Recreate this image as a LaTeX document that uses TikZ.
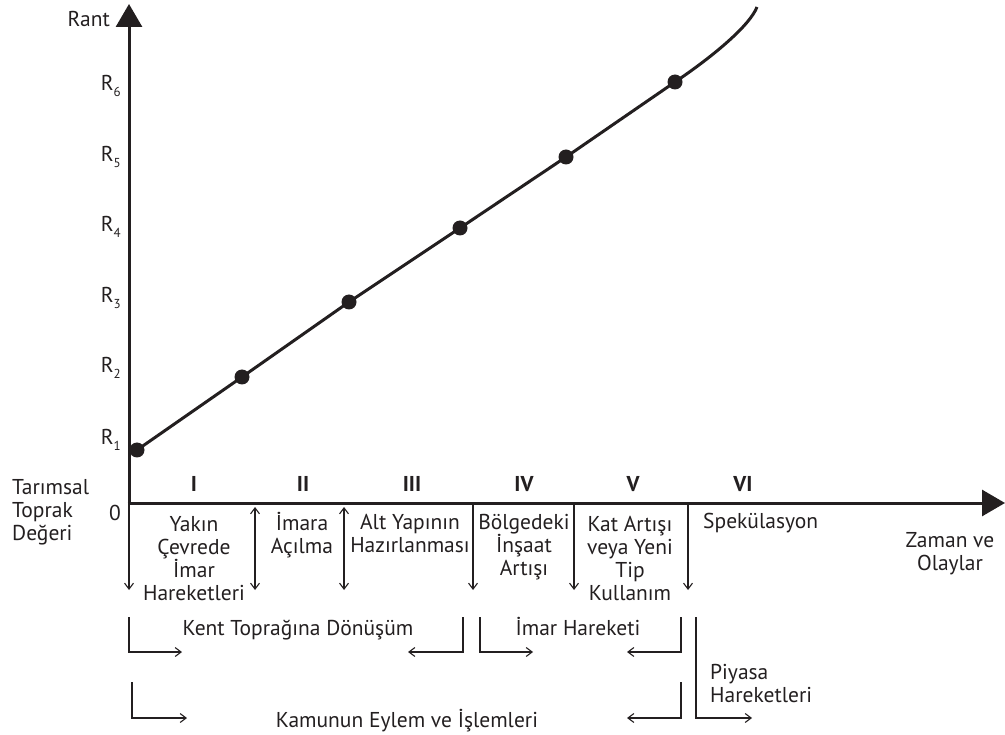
\documentclass[tikz,border=0pt]{standalone}
\usepackage{fontspec}
\setmainfont{PT Sans}
\usetikzlibrary{arrows.meta}
\definecolor{ink}{HTML}{231F20}
\newcommand{\Rlab}[1]{R\raisebox{-6pt}{\fontsize{13}{13}\selectfont #1}}
\begin{document}
\begin{tikzpicture}[x=1pt,y=-1pt,
  txt/.style={font=\fontsize{21.5}{23}\selectfont, inner sep=0pt, align=center, text=ink},
  numeral/.style={txt, font=\fontsize{21.5}{23}\selectfont\bfseries},
  axisline/.style={draw=ink, line width=3pt, -{Triangle[length=23pt,width=26pt]}},
  plotline/.style={draw=ink, line width=3pt},
  dot/.style={circle, fill=ink, minimum size=15pt, inner sep=0pt},
  thinarrow/.style={draw=ink, line width=1.1pt, -{Straight Barb[length=6pt,width=9pt]}},
  thinboth/.style={draw=ink, line width=1.1pt, {Straight Barb[length=6pt,width=9pt]}-{Straight Barb[length=6pt,width=9pt]}},
]
\useasboundingbox (0,0) rectangle (1005,735);

% axes
\coordinate (O) at (129,503);
\coordinate (ytop) at (129,4);
\coordinate (xstart) at (127.5,503);
\coordinate (xend) at (1005,503);
\draw[axisline] (O) -- (ytop);
\draw[axisline] (xstart) -- (xend);

% points
\node[dot] (p1) at (137,450) {};
\node[dot] (p2) at (242,377) {};
\node[dot] (p3) at (349,302) {};
\node[dot] (p4) at (460,228) {};
\node[dot] (p5) at (566,157) {};
\node[dot] (p6) at (675,82) {};
\coordinate (cend) at (757,7);
\draw[plotline] (p1.center) -- (p2.center) -- (p3.center) -- (p4.center) -- (p5.center) -- (p6.center)
  .. controls (715,55) and (750,25) .. (cend);

% axis labels (multi-line nodes anchored at the baseline of their last line)
\node[txt, anchor=base east] (rant) at (110,27) {Rant};
\node[txt, anchor=base east] (r6) at (121,91) {\Rlab{6}};
\node[txt, anchor=base east] (r5) at (121,162) {\Rlab{5}};
\node[txt, anchor=base east] (r4) at (121,232) {\Rlab{4}};
\node[txt, anchor=base east] (r3) at (121,303) {\Rlab{3}};
\node[txt, anchor=base east] (r2) at (121,373) {\Rlab{2}};
\node[txt, anchor=base east] (r1) at (121,445) {\Rlab{1}};
\node[txt, anchor=base west, align=left] (tarim) at (12,540) {Tarımsal\\Toprak\\Değeri};
\node[txt, anchor=base] (zero) at (115,520) {0};
\node[txt, anchor=base] (zaman) at (950,570) {Zaman ve\\Olaylar};

% roman numerals
\node[numeral, anchor=base] (n1) at (194,492) {I};
\node[numeral, anchor=base] (n2) at (303,492) {II};
\node[numeral, anchor=base] (n3) at (412,492) {III};
\node[numeral, anchor=base] (n4) at (524,492) {IV};
\node[numeral, anchor=base] (n5) at (633,492) {V};
\node[numeral, anchor=base] (n6) at (743,492) {VI};

% phase texts
\node[txt, anchor=base] (t1) at (194,600) {Yakın\\Çevrede\\İmar\\Hareketleri};
\node[txt, anchor=base] (t2) at (302,553) {İmara\\Açılma};
\node[txt, anchor=base] (t3) at (410,552) {Alt Yapının\\Hazırlanması};
\node[txt, anchor=base] (t4) at (524,575) {Bölgedeki\\İnşaat\\Artışı};
\node[txt, anchor=base] (t5) at (630,600) {Kat Artışı\\veya Yeni\\Tip\\Kullanım};
\node[txt, anchor=base west] (t6) at (703,528) {Spekülasyon};

% boundary arrows
\coordinate (b0t) at (129,503); \coordinate (b0b) at (129,590);
\coordinate (b1t) at (255,507); \coordinate (b1b) at (255,590);
\coordinate (b2t) at (344,507); \coordinate (b2b) at (344,590);
\coordinate (b3t) at (473,503); \coordinate (b3b) at (473,590);
\coordinate (b4t) at (574,503); \coordinate (b4b) at (574,590);
\coordinate (b5t) at (688,503); \coordinate (b5b) at (688,590);
\draw[thinarrow] (b0t) -- (b0b);
\draw[thinboth] (b1t) -- (b1b);
\draw[thinboth] (b2t) -- (b2b);
\draw[thinarrow] (b3t) -- (b3b);
\draw[thinarrow] (b4t) -- (b4b);
\draw[thinarrow] (b5t) -- (b5b);

% brackets
\coordinate (k1a) at (129,617); \coordinate (k1b) at (182,652);
\coordinate (k2a) at (463,617); \coordinate (k2b) at (408,652);
\coordinate (i1a) at (480,617); \coordinate (i1b) at (533,652);
\coordinate (i2a) at (681,617); \coordinate (i2b) at (627,652);
\coordinate (m1a) at (132,682); \coordinate (m1b) at (187,718);
\coordinate (m2a) at (681,682); \coordinate (m2b) at (627,718);
\coordinate (pya) at (696,617); \coordinate (pyb) at (752,718);
\draw[thinarrow] (k1a) |- (k1b);
\draw[thinarrow] (k2a) |- (k2b);
\draw[thinarrow] (i1a) |- (i1b);
\draw[thinarrow] (i2a) |- (i2b);
\draw[thinarrow] (m1a) |- (m1b);
\draw[thinarrow] (m2a) |- (m2b);
\draw[thinarrow] (pya) |- (pyb);

\node[txt, anchor=base] (kent) at (298,635) {Kent Toprağına Dönüşüm};
\node[txt, anchor=base] (imar) at (578,635) {İmar Hareketi};
\node[txt, anchor=base] (kamu) at (407,727) {Kamunun Eylem ve İşlemleri};
\node[txt, anchor=base west, align=left] (piyasa) at (710,702) {Piyasa\\Hareketleri};
\end{tikzpicture}
\end{document}
